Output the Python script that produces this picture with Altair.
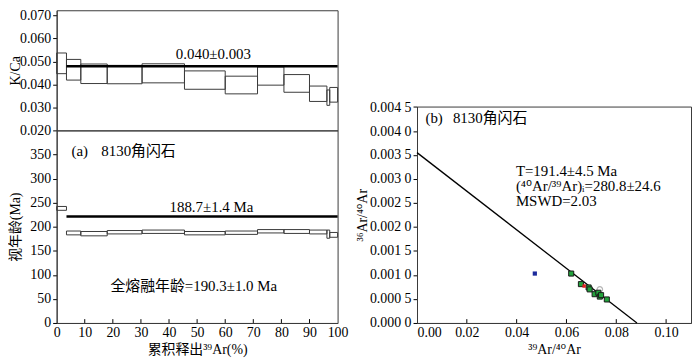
import altair as alt
import pandas as pd

FONT = "Liberation Serif, DejaVu Sans, Noto Sans CJK SC"

# ---------------- data ----------------
# age spectrum step boundaries (cumulative 39Ar released, %)
step_bounds = [0, 3.5, 8.6, 18.0, 30.4, 45.5, 60.0, 71.5, 80.9, 90.0, 96.2, 97.2, 100]
kca_low = [0.0447, 0.0419, 0.0404, 0.0403, 0.0407, 0.0379, 0.0359, 0.0397, 0.0366, 0.0326, 0.0309, 0.0323]
kca_high = [0.0537, 0.0509, 0.0489, 0.0483, 0.0490, 0.0459, 0.0436, 0.0476, 0.0443, 0.0393, 0.0376, 0.0387]
age_low = [234, 183, 181, 185, 186, 183, 184, 187, 186, 185, 176, 178]
age_high = [242, 191, 190, 192, 193, 190, 191, 194, 194, 193, 193, 188]

kca_plateau = [3.5, 100, 0.0479]
age_plateau = [3.5, 100, 221]

# isochron
iso_x = [0.0619, 0.0658, 0.0689, 0.0693, 0.0713, 0.0728, 0.0734, 0.0739, 0.0762]
iso_y = [0.00103, 0.00081, 0.00074, 0.00070, 0.00060, 0.00063, 0.00055, 0.00058, 0.00049]
red_x, red_y = [0.0671], [0.00077]
grey_x, grey_y = [0.0734], [0.00070]
blue_x, blue_y = [0.0473], [0.00103]
iso_line_x = [0.0, 0.0883]
iso_line_y = [0.00355, 0.0]

x_ticks_left = [10, 20, 30, 40, 50, 60, 70, 80, 90]
x_ticks_right = [0.02, 0.04, 0.06, 0.08, 0.10]
kca_ticks = [0.02, 0.03, 0.04, 0.05, 0.06, 0.07]
age_ticks_v = [0, 50, 100, 150, 200, 250, 300, 350]
iso_y_ticks = [0.0, 0.0005, 0.001, 0.0015, 0.002, 0.0025, 0.003, 0.0035, 0.004, 0.0045]

# ---------------- tables ----------------
steps = pd.DataFrame({
    "x0": step_bounds[:-1], "x1": step_bounds[1:],
    "kl": kca_low, "kh": kca_high, "al": age_low, "ah": age_high,
})

xs_left = alt.Scale(domain=[0, 100], nice=False, zero=False)
ys_kca = alt.Scale(domain=[0.02, 0.0723], nice=False, zero=False)
ys_age = alt.Scale(domain=[0, 400], nice=False, zero=False)
xs_iso = alt.Scale(domain=[0, 0.11], nice=False, zero=False)
ys_iso = alt.Scale(domain=[0, 0.00451], nice=False, zero=False)

BOX = "#3a3a3a"
W = 283
TXT = 15

# ---- K/Ca panel ----
kca_rect = alt.Chart(steps).mark_rect(fill="white", fillOpacity=0, stroke=BOX, strokeWidth=1).encode(
    x=alt.X("x0:Q", scale=xs_left, axis=None),
    x2="x1:Q",
    y=alt.Y("kl:Q", scale=ys_kca,
            axis=alt.Axis(values=kca_ticks, tickCount=30, format=".3f",
                          title="K/Ca", titleX=-34, tickSize=4, labelPadding=2)),
    y2="kh:Q",
)
kca_line = alt.Chart(pd.DataFrame({"a": [kca_plateau[0]], "b": [kca_plateau[1]], "y": [kca_plateau[2]]})).mark_rule(
    color="black", strokeWidth=2.6).encode(x="a:Q", x2="b:Q", y="y:Q")
kca_text = alt.Chart(pd.DataFrame({"x": [55.8], "y": [0.0533], "t": ["0.040±0.003"]})).mark_text(
    fontSize=TXT, font=FONT, align="center", baseline="middle", color="black").encode(x="x:Q", y="y:Q", text="t:N")
top = alt.layer(kca_rect, kca_line, kca_text).properties(width=W, height=121)

# ---- age spectrum panel ----
age_rect = alt.Chart(steps).mark_rect(fill="white", fillOpacity=0, stroke=BOX, strokeWidth=1).encode(
    x=alt.X("x0:Q", scale=xs_left,
            axis=alt.Axis(values=list(range(0, 101, 10)), tickCount=30, format="d", title="累积释出³⁹Ar(%)",
                          tickSize=0, labelPadding=3, titlePadding=3, labelFlush=False)),
    x2="x1:Q",
    y=alt.Y("al:Q", scale=ys_age,
            axis=alt.Axis(values=age_ticks_v, tickCount=30, title="视年龄(Ma)", titleX=-34,
                          tickSize=4, labelPadding=2)),
    y2="ah:Q",
)
age_line = alt.Chart(pd.DataFrame({"a": [age_plateau[0]], "b": [age_plateau[1]], "y": [age_plateau[2]]})).mark_rule(
    color="black", strokeWidth=2.6).encode(x="a:Q", x2="b:Q", y="y:Q")
age_ticks = alt.Chart(pd.DataFrame({"x": x_ticks_left, "y0": [0] * 9, "y1": [8] * 9})).mark_rule(
    color="black", strokeWidth=1).encode(x="x:Q", y="y0:Q", y2="y1:Q")
age_text_df = pd.DataFrame({
    "x": [5.3, 15.9, 55.1, 48.8],
    "y": [357, 357, 241, 75.8],
    "t": ["(a)", "8130角闪石", "188.7±1.4 Ma", "全熔融年龄=190.3±1.0 Ma"],
})
age_text_l = alt.Chart(age_text_df.iloc[:2]).mark_text(
    fontSize=TXT, font=FONT, align="left", baseline="middle", color="black").encode(x="x:Q", y="y:Q", text="t:N")
age_text_c = alt.Chart(age_text_df.iloc[2:]).mark_text(
    fontSize=TXT, font=FONT, align="center", baseline="middle", color="black").encode(x="x:Q", y="y:Q", text="t:N")
bottom = alt.layer(age_rect, age_line, age_ticks, age_text_l, age_text_c).properties(width=W, height=194)

left = alt.vconcat(top, bottom, spacing=0, bounds="flush")

# ---- isochron panel ----
RW = 276
iso_l = alt.Chart(pd.DataFrame({"x": iso_line_x, "y": iso_line_y})).mark_line(
    color="black", strokeWidth=1.3).encode(
    x=alt.X("x:Q", scale=xs_iso,
            axis=alt.Axis(values=[0, 0.02, 0.04, 0.06, 0.08, 0.10], tickCount=30, format=".2f", title="³⁹Ar/⁴⁰Ar",
                          tickSize=0, labelPadding=3, titlePadding=3, labelFlush=True)),
    y=alt.Y("y:Q", scale=ys_iso,
            axis=alt.Axis(values=iso_y_ticks, tickCount=30,
                          labelExpr="slice(format(datum.value,'.4f'),0,5) + ' ' + slice(format(datum.value,'.4f'),5)",
                          title="³⁶Ar/⁴⁰Ar", titleX=-48, tickSize=4, labelPadding=2)),
)
iso_ticks = alt.Chart(pd.DataFrame({"x": x_ticks_right, "y0": [0] * 5, "y1": [0.00008] * 5})).mark_rule(
    color="black", strokeWidth=1).encode(x="x:Q", y="y0:Q", y2="y1:Q")
iso_pts = alt.Chart(pd.DataFrame({"x": iso_x, "y": iso_y})).mark_square(
    size=26, fill="#22a33c", fillOpacity=1, stroke="#1a1a1a", strokeWidth=1).encode(x="x:Q", y="y:Q")
grey_pt = alt.Chart(pd.DataFrame({"x": grey_x, "y": grey_y})).mark_point(
    size=30, shape="circle", filled=False, color="#999999", strokeWidth=1.2).encode(x="x:Q", y="y:Q")
red_pt = alt.Chart(pd.DataFrame({"x": red_x, "y": red_y})).mark_square(
    size=12, color="#e02020", opacity=1).encode(x="x:Q", y="y:Q")
blue_pt = alt.Chart(pd.DataFrame({"x": blue_x, "y": blue_y})).mark_square(
    size=18, color="#1c2a9c", opacity=1).encode(x="x:Q", y="y:Q")
iso_text_df = pd.DataFrame({
    "x": [0.0034, 0.0144, 0.0397, 0.0397, 0.0397],
    "y": [0.00427, 0.00427, 0.00316, 0.00285, 0.00254],
    "t": ["(b)", "8130角闪石", "T=191.4±4.5 Ma", "(⁴⁰Ar/³⁹Ar)ᵢ=280.8±24.6", "MSWD=2.03"],
})
iso_text = alt.Chart(iso_text_df).mark_text(
    fontSize=TXT, font=FONT, align="left", baseline="middle", color="black").encode(x="x:Q", y="y:Q", text="t:N")
iso = alt.layer(iso_l, iso_ticks, grey_pt, iso_pts, red_pt, blue_pt, iso_text).properties(width=RW, height=218)

spacer = alt.Chart(pd.DataFrame({"v": [0]})).mark_point(opacity=0).encode(
    x=alt.X("v:Q", axis=None), y=alt.Y("v:Q", axis=None)
).properties(width=RW, height=97, view=alt.ViewBackground(strokeOpacity=0, fillOpacity=0))

right = alt.vconcat(spacer, iso, spacing=0, bounds="flush")

chart = alt.hconcat(left, right, spacing=6).properties(
    padding={"left": 0, "top": -2, "right": 0, "bottom": 0}, background="white"
).configure_view(stroke=BOX, strokeWidth=1).configure_axis(
    labelFont=FONT, titleFont=FONT, labelFontSize=14, titleFontSize=14,
    labelColor="black", titleColor="black", tickColor="black", domainColor=BOX,
    grid=False, titleFontWeight="normal", labelOverlap=False, labelBound=False,
)

chart.save("out.html", embed_options={"renderer": "svg", "actions": False})
